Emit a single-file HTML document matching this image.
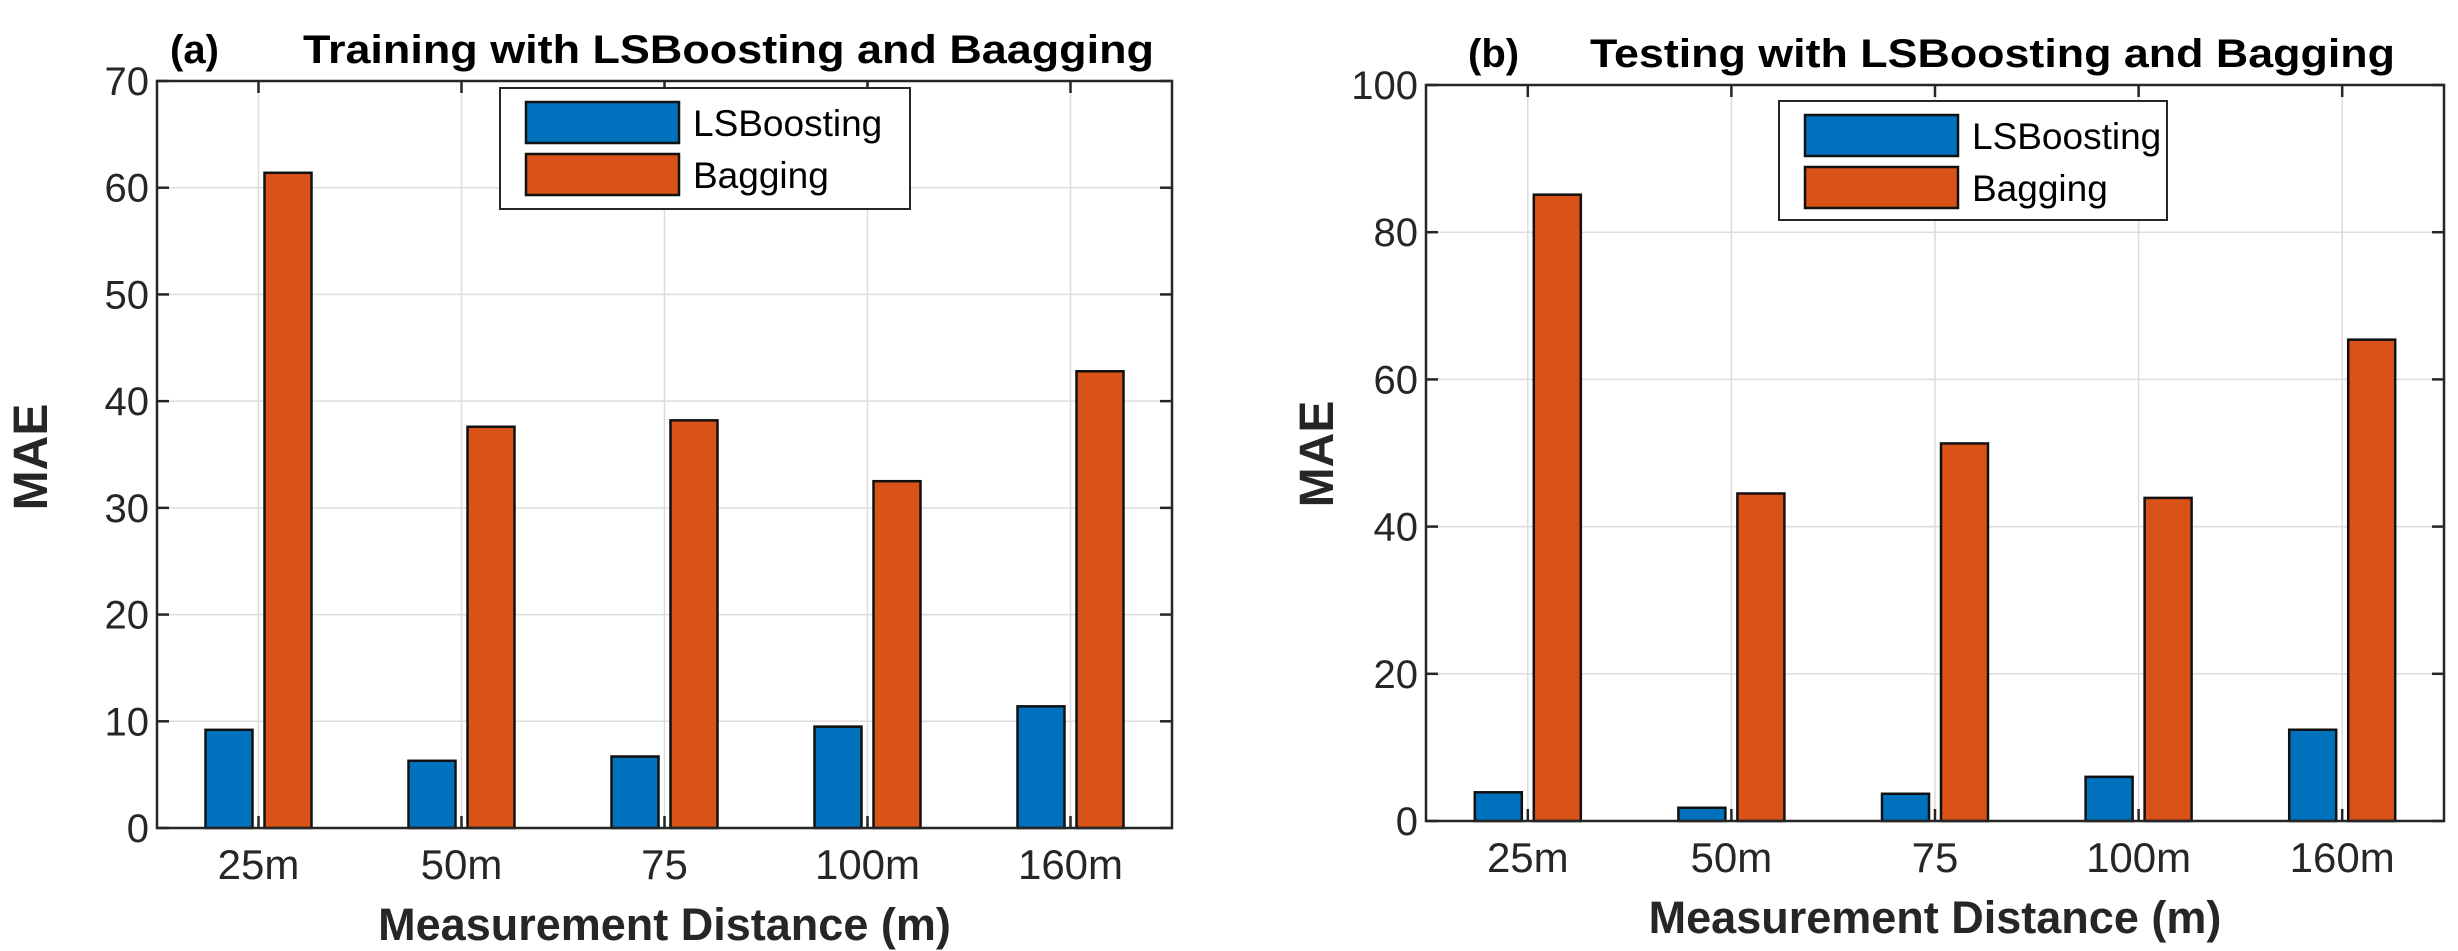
<!DOCTYPE html>
<html><head><meta charset="utf-8">
<style>
html,body{margin:0;padding:0;background:#fff;}
svg{display:block;font-family:"Liberation Sans",Arial,sans-serif;}
</style></head>
<body>
<svg id="fig" width="2458" height="951" viewBox="0 0 2458 951" xmlns="http://www.w3.org/2000/svg"></svg>
<script>
const categories = ["25m","50m","75","100m","160m"];
const trainLSBoost = [9.2, 6.3, 6.7, 9.5, 11.4];
const trainBagging = [61.4, 37.6, 38.2, 32.5, 42.8];
const testLSBoost = [3.9, 1.8, 3.7, 6.0, 12.4];
const testBagging = [85.1, 44.5, 51.3, 43.9, 65.4];
const trainTicks = [0,10,20,30,40,50,60,70];
const testTicks = [0,20,40,60,80,100];
const seriesNames = ["LSBoosting","Bagging"];

const NS="http://www.w3.org/2000/svg";
const svg=document.getElementById('fig');
function mk(tag,attrs,parent,text){const e=document.createElementNS(NS,tag);for(const k in attrs)e.setAttribute(k,attrs[k]);if(text!==undefined)e.textContent=text;(parent||svg).appendChild(e);return e;}

function chart(cfg){
  const g=mk('g',{});
  
  
  const {L,R,T,B,ymax}=cfg;
  const y=v=>B-(v/ymax)*(B-T);
  const step=(R-L)/categories.length;
  const x=i=>L+step*(i+0.5);
  cfg.ticks.forEach(t=>{
    const gl=mk('line',{x1:L,x2:R,y1:y(t),y2:y(t),stroke:'#dcdcdc','stroke-width':1.5},g);
    
    
  });
  categories.forEach((c,i)=>{
    const gl=mk('line',{x1:x(i),x2:x(i),y1:T,y2:B,stroke:'#dcdcdc','stroke-width':1.5},g);
    
    
  });
  const bw=47, off=29.5;
  categories.forEach((c,i)=>{
    const v1=cfg.s1[i], v2=cfg.s2[i];
    const b1=mk('rect',{x:x(i)-off-bw/2,y:y(v1),width:bw,height:B-y(v1),fill:'#0072BD',stroke:'#111','stroke-width':2.5},g);
    
    
    const b2=mk('rect',{x:x(i)+off-bw/2,y:y(v2),width:bw,height:B-y(v2),fill:'#D95319',stroke:'#111','stroke-width':2.5},g);
    
    
  });
  const box=mk('rect',{x:L,y:T,width:R-L,height:B-T,fill:'none',stroke:'#262626','stroke-width':2.5},g);
  
  
  cfg.ticks.forEach(t=>{
    mk('line',{x1:L,x2:L+12,y1:y(t),y2:y(t),stroke:'#262626','stroke-width':2.5},g);
    mk('line',{x1:R,x2:R-12,y1:y(t),y2:y(t),stroke:'#262626','stroke-width':2.5},g);
    const tl=mk('text',{x:L-8,y:y(t)+14,'text-anchor':'end','font-size':40,fill:'#262626'},g,String(t));
    
    
  });
  categories.forEach((c,i)=>{
    mk('line',{x1:x(i),x2:x(i),y1:B,y2:B-12,stroke:'#262626','stroke-width':2.5},g);
    mk('line',{x1:x(i),x2:x(i),y1:T,y2:T+12,stroke:'#262626','stroke-width':2.5},g);
    const tl=mk('text',{x:x(i),y:B+51,'text-anchor':'middle','font-size':42,fill:'#262626'},g,c);
    
    
  });
  const xt=mk('text',{x:(L+R)/2,y:B+112,'text-anchor':'middle','font-size':45,'font-weight':'bold',fill:'#262626'},g,'Measurement Distance (m)');
  
  
  const yt=mk('text',{x:0,y:0,'text-anchor':'middle','font-size':48,'font-weight':'bold',fill:'#262626',transform:`translate(${cfg.yTitleX},${cfg.yTitleY}) rotate(-90)`},g,'MAE');
  
  
  const tl=mk('text',{x:cfg.tagX,y:cfg.titleY,'font-size':40,'font-weight':'bold',fill:'#000'},g,cfg.tag);
  
  
  const tt=mk('text',{x:cfg.titleX,y:cfg.titleY,'font-size':40,'font-weight':'bold',fill:'#000',textLength:cfg.titleW,lengthAdjust:'spacingAndGlyphs'},g,cfg.title);
  
  
  const lg=mk('g',{},g);
  
  
  const lb=cfg.leg;
  mk('rect',{x:lb.x,y:lb.y,width:lb.w,height:lb.h,fill:'#fff',stroke:'#262626','stroke-width':2},lg);
  const cols=['#0072BD','#D95319'];
  seriesNames.forEach((n,k)=>{
    const ry=lb.y+14+k*52;
    const e=mk('g',{},lg);
    
    
    mk('rect',{x:lb.x+26,y:ry,width:153,height:41,fill:cols[k],stroke:'#111','stroke-width':2.5},e);
    mk('text',{x:lb.x+193,y:ry+34,'font-size':37,fill:'#000'},e,n);
  });
}

chart({id:'training-chart',L:157,R:1172,T:81,B:828,ymax:70,ticks:trainTicks,s1:trainLSBoost,s2:trainBagging,
  yTitleX:47,yTitleY:457,tag:'(a)',tagX:170,titleX:303,titleW:851,titleY:63,
  title:'Training with LSBoosting and Baagging',leg:{x:500,y:88,w:410,h:121}});
chart({id:'testing-chart',L:1426,R:2444,T:85,B:821,ymax:100,ticks:testTicks,s1:testLSBoost,s2:testBagging,
  yTitleX:1333,yTitleY:454,tag:'(b)',tagX:1468,titleX:1590,titleW:805,titleY:67,
  title:'Testing with LSBoosting and Bagging',leg:{x:1779,y:101,w:388,h:119}});
</script>
</body></html>
